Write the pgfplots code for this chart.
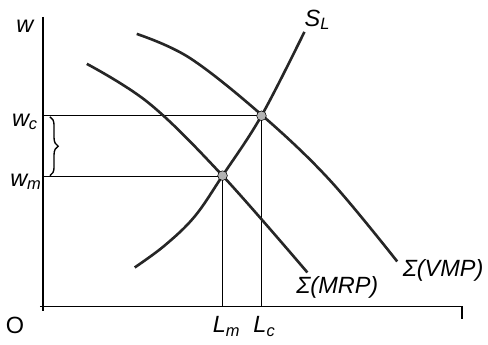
\documentclass[border=0pt]{standalone}
\usepackage{fontspec}
\setmainfont{Liberation Sans}
\usepackage{pgfplots}
\pgfplotsset{compat=1.18}
\usetikzlibrary{decorations.pathreplacing}
\begin{document}
\begin{tikzpicture}
\begin{axis}[
  scale only axis, width=4.88in, height=3.45in,
  xmin=0, xmax=488, ymin=0, ymax=345, y dir=reverse,
  hide axis, clip=false,
]
\path (axis cs:0,0) rectangle (axis cs:488,345);
% axes
\addplot[black, line width=1.2pt] coordinates {(43,17) (43,312)};
\addplot[black, line width=1.2pt] coordinates {(40,307) (463,307) (463,320)};
% guide lines at the two equilibria
\addplot[black, line width=1pt] coordinates {(43,116) (262,116)};
\addplot[black, line width=1pt] coordinates {(43,177) (223,177)};
\addplot[black, line width=1pt] coordinates {(223,177) (223,307)};
\addplot[black, line width=1pt] coordinates {(262,116) (262,307)};
% marginal revenue product
\addplot[black!85, line width=1.9pt, smooth, tension=0.6] coordinates {
  (87,64) (150,104) (223,176) (308,273)};
% value of marginal product
\addplot[black!85, line width=1.9pt, smooth, tension=0.6] coordinates {
  (137,34) (190,58) (262,115) (330,180) (398,262)};
% labour supply
\addplot[black!85, line width=1.9pt, smooth, tension=0.6] coordinates {
  (135,268) (165,246) (195,217) (223,176) (262,116) (305,32)};
% intersection points
\addplot[only marks, mark=*, mark size=3.5pt, draw=none, fill=black!30] coordinates {(223,176) (262,116)};
% brace between the two wages
\draw[decorate, decoration={brace, amplitude=6pt}, line width=1pt] (axis cs:50,117) -- (axis cs:50,176);
% labels
\node[font=\fontsize{17}{19}\selectfont\itshape] at (axis cs:25,26) {w};
\node[font=\fontsize{17}{19}\selectfont\itshape] at (axis cs:25,122) {w\textsubscript{c}};
\node[font=\fontsize{17}{19}\selectfont\itshape] at (axis cs:26,182) {w\textsubscript{m}};
\node[font=\fontsize{17}{19}\selectfont] at (axis cs:15,326) {O};
\node[font=\fontsize{17}{19}\selectfont\itshape] at (axis cs:227,327) {L\textsubscript{m}};
\node[font=\fontsize{17}{19}\selectfont\itshape] at (axis cs:265,327) {L\textsubscript{c}};
\node[font=\fontsize{17}{19}\selectfont\itshape] at (axis cs:318,20) {S\textsubscript{L}};
\node[font=\fontsize{17}{19}\selectfont\itshape] at (axis cs:338,288) {Σ(MRP)};
\node[font=\fontsize{17}{19}\selectfont\itshape] at (axis cs:444,271) {Σ(VMP)};
\end{axis}
\end{tikzpicture}
\end{document}
